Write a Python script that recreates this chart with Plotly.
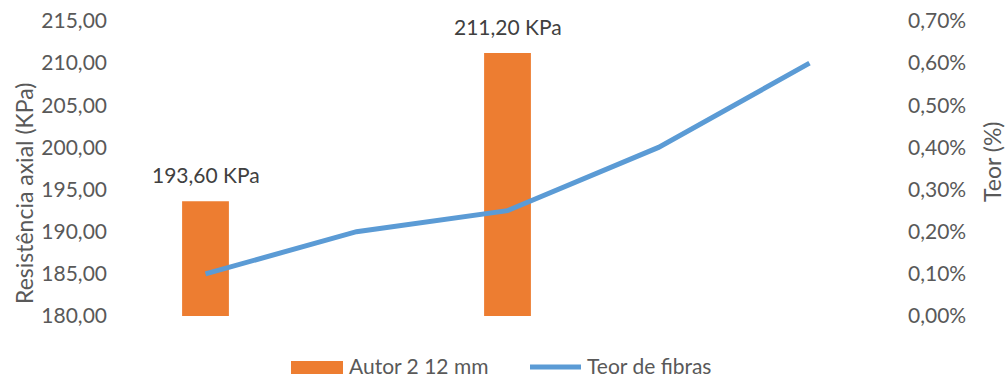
import plotly.graph_objects as go

# Categories along the horizontal axis (no labels are shown)
categories = ["A", "B", "C", "D", "E"]
# Axial strength (KPa) for the "Autor 2 12 mm" series; only two samples
resistencia = [193.60, None, 211.20, None, None]
# Fibre content (%) as fraction
teor = [0.0010, 0.0020, 0.0025, 0.0040, 0.0060]

left_ticks = [180, 185, 190, 195, 200, 205, 210, 215]
right_ticks = [0.0, 0.001, 0.002, 0.003, 0.004, 0.005, 0.006, 0.007]

BAR_NAME = "Autor 2 12 mm"
LINE_NAME = "Teor de fibras"
LEFT_TITLE = "Resistência axial (KPa)"
RIGHT_TITLE = "Teor (%)"
BAR_COLOR = "#ED7D31"
LINE_COLOR = "#5B9BD5"

FONT = "Lato"
GREY = "#595959"
FS = 21

W, H = 1006, 378
ML, MR, MT, MB = 130, 121, 21, 62
PW, PH = W - ML - MR, H - MT - MB


def px(x):
    return (x - ML) / PW


def py(y):
    return (H - MB - y) / PH


fig = go.Figure()
fig.add_trace(go.Bar(
    x=categories, y=resistencia, name=BAR_NAME,
    marker=dict(color=BAR_COLOR, line=dict(width=0)),
    width=0.31, showlegend=False,
))
fig.add_trace(go.Scatter(
    x=categories, y=teor, name=LINE_NAME, yaxis="y2",
    mode="lines", line=dict(color=LINE_COLOR, width=5), showlegend=False,
))

# Value labels above the bars
for i, v in enumerate(resistencia):
    if v is None:
        continue
    fig.add_annotation(
        x=i, y=v, xref="x", yref="y", text=f"{v:.2f}".replace(".", ",") + " KPa",
        showarrow=False, yanchor="bottom", yshift=12,
        font=dict(family=FONT, size=FS, color="#404040"),
    )

# Axis titles
fig.add_annotation(xref="paper", yref="paper", x=px(24), y=py(193),
                   xanchor="center", yanchor="middle", showarrow=False,
                   text=LEFT_TITLE, textangle=-90,
                   font=dict(family=FONT, size=23, color=GREY))
fig.add_annotation(xref="paper", yref="paper", x=px(992), y=py(162),
                   xanchor="center", yanchor="middle", showarrow=False,
                   text=RIGHT_TITLE, textangle=-90,
                   font=dict(family=FONT, size=23, color=GREY))

# Legend drawn below the plot
fig.add_shape(type="rect", xref="paper", yref="paper",
              x0=px(291), x1=px(343), y0=py(374), y1=py(361),
              fillcolor=BAR_COLOR, line=dict(width=0))
fig.add_annotation(xref="paper", yref="paper", x=px(347), y=py(365),
                   xanchor="left", yanchor="middle", showarrow=False, text=BAR_NAME,
                   font=dict(family=FONT, size=FS, color=GREY))
fig.add_shape(type="line", xref="paper", yref="paper",
              x0=px(530), x1=px(581), y0=py(367), y1=py(367),
              line=dict(color=LINE_COLOR, width=5))
fig.add_annotation(xref="paper", yref="paper", x=px(585), y=py(365),
                   xanchor="left", yanchor="middle", showarrow=False, text=LINE_NAME,
                   font=dict(family=FONT, size=FS, color=GREY))

fig.update_layout(
    width=W, height=H,
    margin=dict(l=ML, r=MR, t=MT, b=MB, autoexpand=False),
    paper_bgcolor="white", plot_bgcolor="white",
    separators=",.",
    font=dict(family=FONT, size=FS, color=GREY),
    showlegend=False,
    xaxis=dict(showticklabels=False, showline=False, showgrid=False, zeroline=False,
               range=[-0.5, 4.5]),
    yaxis=dict(range=[180, 215], tickvals=left_ticks, tickformat=".2f",
               showgrid=False, zeroline=False, showline=False, ticks="",
               ticklabelstandoff=22,
               tickfont=dict(family=FONT, size=FS, color=GREY)),
    yaxis2=dict(overlaying="y", side="right", range=[0, 0.007], tickvals=right_ticks,
                tickformat=".2%", showgrid=False, zeroline=False, showline=False, ticks="",
                ticklabelstandoff=22,
                tickfont=dict(family=FONT, size=FS, color=GREY)),
)

fig.write_html("out.html")
